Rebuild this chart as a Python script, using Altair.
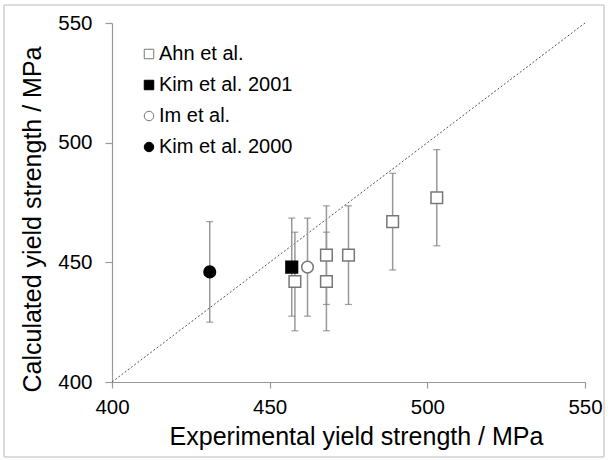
import altair as alt
import pandas as pd

# Measured vs. calculated yield strength, with the ± uncertainty of each estimate
series = ["Ahn et al.", "Kim et al. 2001", "Im et al.", "Kim et al. 2000"]

ahn_exp = [458, 468, 468, 475, 489, 503]
ahn_calc = [442, 453, 442, 453, 467, 477]
ahn_err = [20.6, 20.6, 20.6, 20.6, 20.2, 20.1]

kim2001_exp = [457]
kim2001_calc = [448]
kim2001_err = [20.5]

im_exp = [462]
im_calc = [448]
im_err = [20.5]

kim2000_exp = [431]
kim2000_calc = [446]
kim2000_err = [21]

axis_ticks = [400, 450, 500, 550]

rows = []
for name, xs, ys, es in [
    (series[0], ahn_exp, ahn_calc, ahn_err),
    (series[1], kim2001_exp, kim2001_calc, kim2001_err),
    (series[2], im_exp, im_calc, im_err),
    (series[3], kim2000_exp, kim2000_calc, kim2000_err),
]:
    for x, y, e in zip(xs, ys, es):
        rows.append({"source": name, "exp": x, "calc": y, "lo": y - e, "hi": y + e})
df = pd.DataFrame(rows)
df_line = pd.DataFrame({"exp": [axis_ticks[0], axis_ticks[-1]], "calc": [axis_ticks[0], axis_ticks[-1]]})

x_scale = alt.Scale(domain=[400, 550], nice=False, zero=False)
y_scale = alt.Scale(domain=[400, 550], nice=False, zero=False)

x_axis = alt.Axis(values=axis_ticks, title="Experimental yield strength / MPa", grid=False,
                  tickSize=6, labelPadding=9, labelFlush=False,
                  titleX=244, titleY=62, titleBaseline="alphabetic", titleAlign="center")
y_axis = alt.Axis(values=axis_ticks, title="Calculated yield strength / MPa", grid=False,
                  tickSize=7, labelPadding=13, labelFlush=False,
                  titleX=-72, titleY=196, titleBaseline="alphabetic", titleAlign="center", titleAngle=270)

base = alt.Chart(df)

parity = alt.Chart(df_line).mark_line(color="#555555", strokeWidth=1, strokeDash=[2, 2]).encode(
    x=alt.X("exp:Q", scale=x_scale, axis=x_axis),
    y=alt.Y("calc:Q", scale=y_scale, axis=y_axis),
)

bars = base.mark_rule(color="#999999", strokeWidth=1.5).encode(
    x="exp:Q", y="lo:Q", y2="hi:Q"
)
cap_lo = base.mark_tick(color="#777777", thickness=1.2, size=7, orient="horizontal").encode(
    x="exp:Q", y="lo:Q"
)
cap_hi = base.mark_tick(color="#777777", thickness=1.2, size=7, orient="horizontal").encode(
    x="exp:Q", y="hi:Q"
)

legend = alt.Legend(title=None, orient="none", legendX=27, legendY=21)

points = base.mark_point(filled=False, strokeWidth=1.5, opacity=1).encode(
    x="exp:Q",
    y="calc:Q",
    shape=alt.Shape("source:N", scale=alt.Scale(domain=series, range=["square", "square", "circle", "circle"]), legend=legend),
    fill=alt.Fill("source:N", scale=alt.Scale(domain=series, range=["#ffffff", "#000000", "#ffffff", "#000000"]), legend=legend),
    stroke=alt.Stroke("source:N", scale=alt.Scale(domain=series, range=["#777777", "#000000", "#777777", "#000000"]), legend=legend),
    size=alt.value(135),
)

# light frame around the whole figure
frame = alt.Chart(df_line).mark_rect(fill=None, stroke="#d0d0d0", strokeWidth=1).encode(
    x=alt.value(-108), x2=alt.value(492), y=alt.value(-18), y2=alt.value(434)
)

chart = alt.layer(parity, bars, cap_lo, cap_hi, points, frame).properties(
    width=473, height=359,
    background="#ffffff",
    autosize=alt.AutoSizeParams(type="none"),
    padding={"left": 112, "top": 23, "right": 23, "bottom": 78},
).configure_view(stroke=None).configure_axis(
    domainColor="#999999", tickColor="#999999", domainWidth=1.2, tickWidth=1.2,
    labelFont="Liberation Sans", titleFont="Liberation Sans",
    labelFontSize=20.5, titleFontSize=25, labelColor="#000000", titleColor="#000000",
    titleFontWeight="normal",
).configure_legend(
    labelFont="Liberation Sans", labelFontSize=20, labelColor="#000000",
    symbolSize=90, symbolStrokeWidth=1, rowPadding=11, labelOffset=0,
    labelLimit=300,
)

chart.save("out.html", embed_options={"renderer": "svg", "actions": False})
